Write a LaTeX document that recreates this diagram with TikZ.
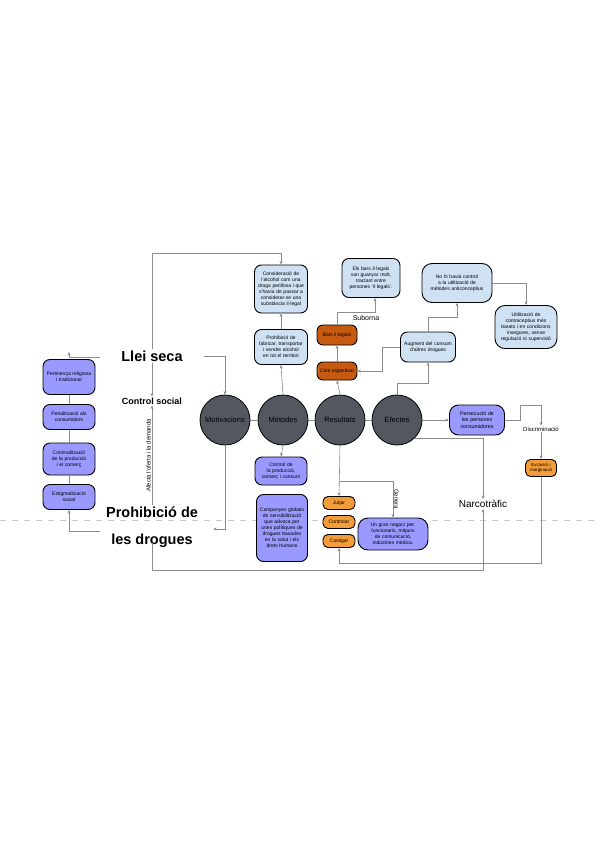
\documentclass[tikz,border=0pt]{standalone}
\usepackage{fontspec}
\setmainfont{Liberation Sans}
\usetikzlibrary{arrows.meta,calc}
\hyphenpenalty=10000
\exhyphenpenalty=10000
\definecolor{purp}{HTML}{9999FF}
\definecolor{lblue}{HTML}{CFE2F3}
\definecolor{orng}{HTML}{F39C3A}
\definecolor{dorng}{HTML}{C65A11}
\definecolor{cgray}{HTML}{53575F}
\definecolor{lgray}{HTML}{8C8C8C}
\definecolor{dgray}{HTML}{C8C8C8}
\tikzset{
  box/.style={draw=black, line width=0.9pt, rounded corners=7pt, align=center,
    inner sep=1pt, font=\fontsize{5}{6}\selectfont},
  purpbox/.style={box, fill=purp},
  bluebox/.style={box, fill=lblue},
  orgbox/.style={box, fill=orng, rounded corners=5pt},
  dorgbox/.style={box, fill=dorng, rounded corners=6pt},
  circ/.style={circle, draw=black, line width=0.8pt, fill=cgray, minimum size=50pt,
    inner sep=0pt, font=\fontsize{7.5}{8}\selectfont},
  big/.style={font=\fontsize{14.5}{27}\selectfont\bfseries, align=center, inner sep=1pt},
  con/.style={draw=lgray, line width=0.6pt},
  arr/.style={con, -{Stealth[length=3.5pt,width=3pt]}},
  lbl/.style={font=\fontsize{6}{7}\selectfont, inner sep=1pt},
}
\begin{document}
\begin{tikzpicture}[x=1pt,y=-1pt]
\useasboundingbox[fill=white] (0,0) rectangle (599,848);
% dashed separator
\draw[dgray, line width=0.8pt, dash pattern=on 6pt off 6pt] (0,520) -- (599,520);

% left column
\node[purpbox, minimum width=52pt, minimum height=35pt, text width=48pt] (p1) at (69,377) {Pertinença religiosa i tradicional};
\node[purpbox, minimum width=52pt, minimum height=25pt, text width=48pt] (p2) at (69,417) {Penalització als consumidors};
\node[purpbox, minimum width=52pt, minimum height=32pt, text width=48pt] (p3) at (69,459) {Criminalització de la producció i el comerç};
\node[purpbox, minimum width=52pt, minimum height=25pt, text width=48pt] (p4) at (69,497) {Estigmatització social};

% main labels
\node[big] (llei) at (152,356) {Llei seca};
\node[font=\fontsize{9}{10}\selectfont\bfseries, inner sep=1pt] (ctrl) at (152,401) {Control social};
\node[big] (proh) at (152,527) {Prohibició de\\les drogues};
\node[font=\fontsize{10}{11}\selectfont, inner sep=1pt] (narco) at (483,504) {Narcotràfic};

% circles
\node[circ] (mot) at (225,420) {Motivacions};
\node[circ] (met) at (283,420) {Mètodes};
\node[circ] (res) at (340,420) {Resultats};
\node[circ] (efe) at (397,420) {Efectes};

% methods column
\node[bluebox, minimum width=53pt, minimum height=48pt, text width=51pt] (cons) at (281,289) {Consideració de l'alcohol com una droga perillosa i que s'havia de passar a considerar-se una substància il·legal};
\node[bluebox, minimum width=53pt, minimum height=35pt, text width=51pt] (prfab) at (281,347) {Prohibició de fabricar, transportar i vendre alcohol en tot el territori};
\node[purpbox, minimum width=52pt, minimum height=28pt, text width=49pt] (ctrlp) at (281,471) {Control de la producció, comerç i consum};
\node[purpbox, minimum width=51pt, minimum height=67pt, text width=47pt] (camp) at (282,528) {Campanyes globals de sensibilització que advoca per unes polítiques de drogues basades en la salut i els drets humans};

% results column
\node[dorgbox, minimum width=40pt, minimum height=20pt] (bars) at (337,335) {Bars il·legals};
\node[dorgbox, minimum width=40pt, minimum height=18pt] (crim) at (337,371) {Crim organitzat};
\node[bluebox, minimum width=58pt, minimum height=39pt, text width=54pt] (elsbars) at (371,278) {Els bars il·legals van guanyar molt, tractant entre persones ‘il·legals’.};
\node[lbl, font=\fontsize{7}{8}\selectfont] (suborna) at (366,318) {Suborna};
\node[orgbox, minimum width=32pt, minimum height=13pt] (jut) at (339,503) {Jutjar};
\node[orgbox, minimum width=32pt, minimum height=13pt] (contr) at (339,522) {Controlar};
\node[orgbox, minimum width=32pt, minimum height=13pt] (cast) at (339,541) {Castigar};
\node[purpbox, minimum width=70pt, minimum height=32pt, text width=66pt, rounded corners=10pt] (negoci) at (393,534) {Un gran negoci per: funcionaris, mitjans de comunicació, indústries mèdica.};

% effects
\node[bluebox, minimum width=55pt, minimum height=30pt, text width=51pt] (aug) at (428,347) {Augment del consum d'altres drogues};
\node[bluebox, minimum width=70pt, minimum height=39pt, text width=66pt, rounded corners=10pt] (nohi) at (457,283) {No hi havia control a la utilització de mètodes anticonceptius};
\node[bluebox, minimum width=62pt, minimum height=43pt, text width=58pt, rounded corners=10pt] (util) at (526,327) {Utilització de contraceptius més barats i en condicions insegures, sense regulació ni supervisió};
\node[purpbox, minimum width=55pt, minimum height=30pt, text width=51pt, rounded corners=9pt, font=\fontsize{5.3}{6.5}\selectfont] (pers) at (477,420) {Persecució de les persones consumidores};
\node[lbl] (disc) at (541,429) {Discriminació};
\node[orgbox, minimum width=31pt, minimum height=17pt, text width=29pt, font=\fontsize{4.5}{5.2}\selectfont] (excl) at (541,468) {Exclusió i marginació};

% coordinates
\coordinate (t1) at (152,253);
\coordinate (lc) at (100,357);
\coordinate (lt) at (69,352);
\coordinate (lb) at (100,531);
\coordinate (sb) at (337,312);
\coordinate (ac) at (382,347);
\coordinate (ec) at (397,383);
\coordinate (an) at (428,317);
\coordinate (pe) at (520,420);
\coordinate (pf) at (541,405);
\coordinate (ex) at (541,563);
\coordinate (pb) at (152,570);
\coordinate (rb) at (340,481);

% connectors
\draw[arr] (llei.north) -- (t1) -| (cons.north);
\draw[arr] ([xshift=20pt]llei.east) -| (mot.north);
\draw[arr] (llei.south) -- (ctrl.north);
\draw[arr] (proh.north) -- node[lbl, rotate=90, above] {Afecta l'oferta i la demanda} (ctrl.south);
\draw[arr] (mot.south) |- ([xshift=14pt,yshift=-2pt]proh.east);
\draw[arr] (lb) -| (p4.south);
\draw[arr] (lc) -| (lt);
\draw[con] (p1) -- (p2) -- (p3) -- (p4);
\draw[con] (mot) -- (met) -- (res) -- (efe);
\draw[arr] (met.north) -- (prfab.south);
\draw[arr] (prfab.north) -- (cons.south);
\draw[arr] (met.south) -- (ctrlp.north);
\draw[arr] (res.north) -- (crim.south);
\draw[arr] (crim.north) -- (bars.south);
\draw[arr] (bars.north) -- (sb) -| ([xshift=4pt]elsbars.south);
\draw[arr] (aug.west) -- (ac) |- (crim.east);
\draw[arr] (efe.north) -- (ec) -| (aug.south);
\draw[arr] (aug.north) -- (an) -| (nohi.south);
\draw[arr] (nohi.east) -| (util.north);
\draw[arr] (efe.east) -- (pers.west);
\draw[arr] (pers.east) -- (pe) |- (pf) -- (disc.north);
\draw[arr] (disc.south) -- (excl.north);
\draw[arr] (excl.south) -- (ex) -| (cast.south);
\draw[arr] (efe.-46) -| (narco.north);
\draw[arr] ([yshift=6pt]proh.south) -- (pb) -| (narco.south);
\draw[arr] (res.south) -- (jut.north);
\draw[arr] (rb) -| node[lbl, rotate=-90, pos=0.75, above] {Genera} (negoci.north);
\end{tikzpicture}
\end{document}
